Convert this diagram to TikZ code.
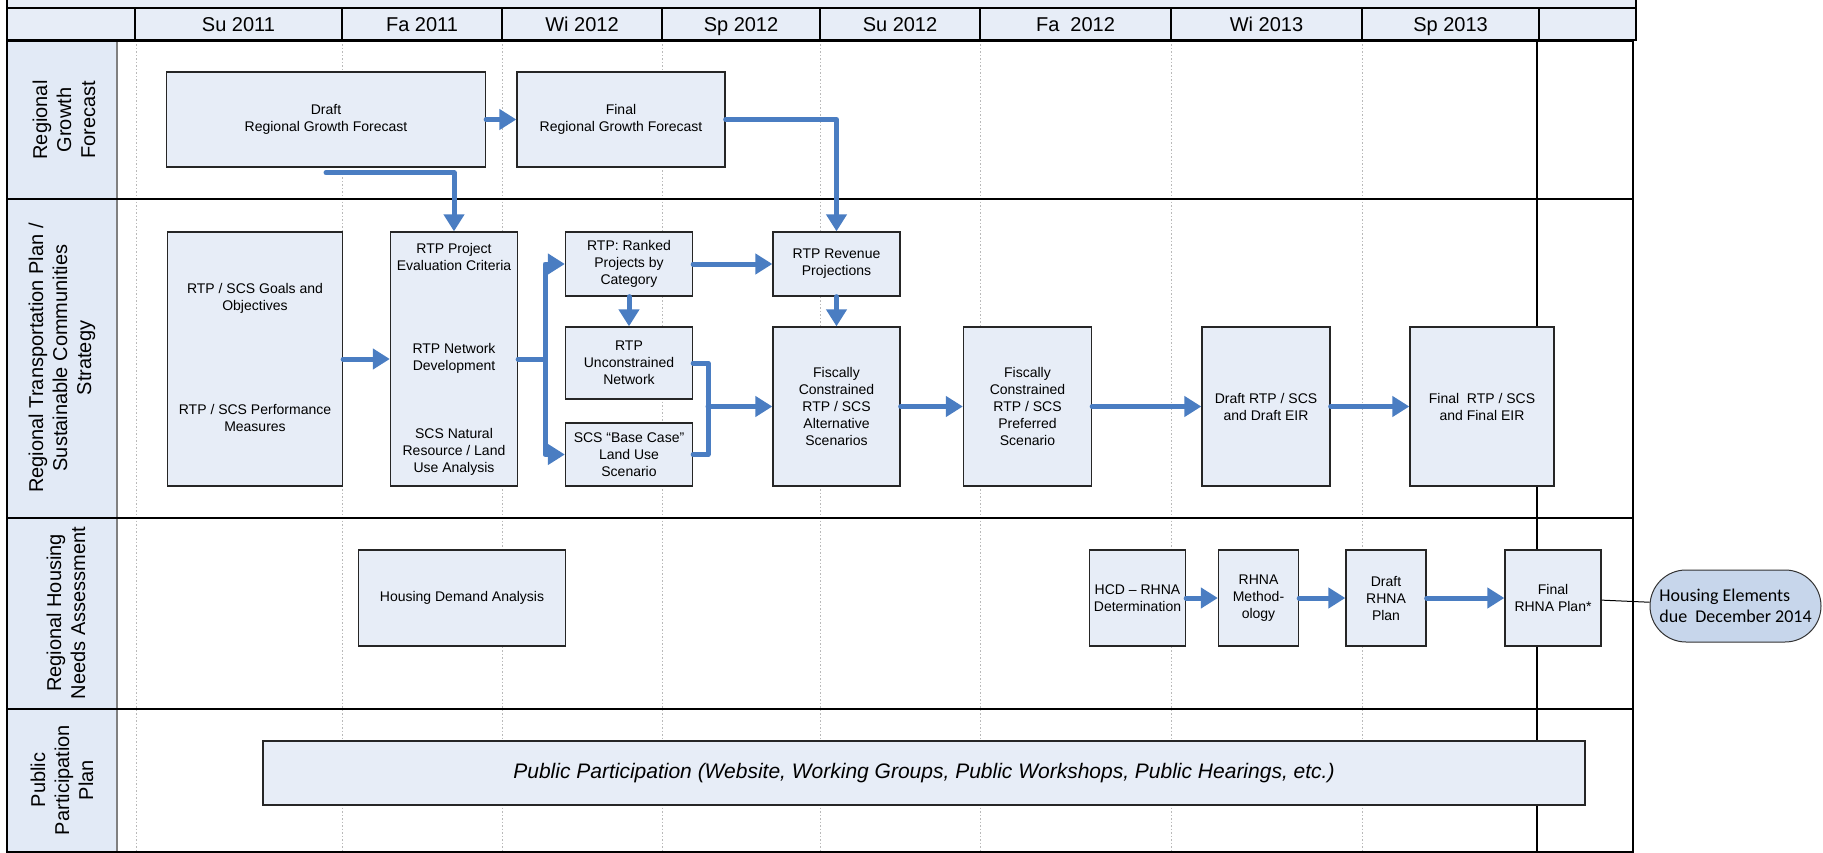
\documentclass[tikz,border=0pt]{standalone}
\usepackage{fontspec}
\setmainfont{Liberation Sans}
\newfontfamily\bubblefont{Carlito}
\usetikzlibrary{arrows.meta,shapes.misc}
\definecolor{boxblue}{RGB}{231,237,247}
\definecolor{laneblue}{RGB}{226,234,246}
\definecolor{flowblue}{RGB}{74,125,194}
\definecolor{bubbleblue}{RGB}{199,214,235}
\tikzstyle{box}=[draw=black!85, line width=1.3pt, fill=boxblue, inner sep=0pt, align=center, font=\fontsize{14}{17}\selectfont]
\tikzstyle{txt}=[inner sep=0pt, align=center, font=\fontsize{14}{17}\selectfont]
\tikzstyle{hdr}=[draw=black, line width=1.3pt, fill=boxblue, minimum height=32pt, inner sep=0pt, text height=15pt, text depth=0pt, font=\fontsize{20}{24}\selectfont]
\tikzstyle{lanelabel}=[rotate=90, inner sep=0pt, align=center, font=\fontsize{20}{24}\selectfont]
\tikzstyle{flow}=[draw=flowblue, line width=5pt, line cap=round, line join=round]
\tikzstyle{gridline}=[draw=gray!55, line width=1pt, dash pattern=on 1.5pt off 2pt]
\tikzstyle{bubble}=[rounded rectangle, draw=black!80, line width=1pt, fill=bubbleblue, minimum width=171pt, minimum height=72pt, inner sep=0pt, align=left, font=\bubblefont\fontsize{18}{21}\selectfont]

\begin{document}
\begin{tikzpicture}[x=1pt, y=-1pt, >={Triangle[length=17pt,width=20pt]}]
\useasboundingbox (0,0) rectangle (1823,853);

\fill[boxblue] (7,0) rectangle (1636,8);
\draw[line width=1.3pt] (7,0) -- (7,8);
\draw[line width=1.3pt] (1636,0) -- (1636,8);

\node[hdr, minimum width=128pt] (corner) at (71,24) {};
\node[hdr, minimum width=207pt] (su11) at (238.5,24) {Su 2011};
\node[hdr, minimum width=160pt] (fa11) at (422,24) {Fa 2011};
\node[hdr, minimum width=160pt] (wi12) at (582,24) {Wi 2012};
\node[hdr, minimum width=158pt] (sp12) at (741,24) {Sp 2012};
\node[hdr, minimum width=160pt] (su12) at (900,24) {Su 2012};
\node[hdr, minimum width=191pt] (fa12) at (1075.5,24) {Fa\ \ 2012};
\node[hdr, minimum width=191pt] (wi13) at (1266.5,24) {Wi 2013};
\node[hdr, minimum width=177pt] (sp13) at (1450.5,24) {Sp 2013};
\node[hdr, minimum width=97pt] (blank) at (1587.5,24) {};

\fill[laneblue] (7,41) rectangle (117,852);
\draw[gridline] (136,41) -- (136,852);
\draw[gridline] (342,41) -- (342,852);
\draw[gridline] (502,41) -- (502,852);
\draw[gridline] (662,41) -- (662,852);
\draw[gridline] (820,41) -- (820,852);
\draw[gridline] (980,41) -- (980,852);
\draw[gridline] (1171,41) -- (1171,852);
\draw[gridline] (1362,41) -- (1362,852);
\draw[line width=1.3pt] (1537,41) -- (1537,852);
\draw[gray, line width=2pt] (117,41) -- (117,852);
\draw[line width=1.3pt] (7,41) rectangle (1633,852);
\draw[line width=1.3pt] (7,199) -- (1633,199);
\draw[line width=1.3pt] (7,518) -- (1633,518);
\draw[line width=1.3pt] (7,709) -- (1633,709);

\node[lanelabel] (rgf) at (64,120) {Regional\\Growth\\Forecast};
\node[lanelabel] (rtp) at (62,358) {Regional Transportation Plan /\\Sustainable Communities\\Strategy};
\node[lanelabel] (rhna) at (66,613) {Regional Housing\\Needs Assessment};
\node[lanelabel] (ppp) at (62,780) {Public\\Participation\\Plan};

\node[box, minimum width=319pt, minimum height=95pt] (draft) at (326,119.5) {Draft\\Regional Growth Forecast};
\node[box, minimum width=208pt, minimum height=95pt] (final) at (621,119.5) {Final\\Regional Growth Forecast};

\node[box, minimum width=175pt, minimum height=254pt] (goals) at (255,359) {};
\node[txt] (goalsA) at (255,298) {RTP / SCS Goals and\\Objectives};
\node[txt] (goalsB) at (255,418) {RTP / SCS Performance\\Measures};
\node[box, minimum width=127pt, minimum height=254pt] (eval) at (454,359) {};
\node[txt] (evalA) at (454,257) {RTP Project\\Evaluation Criteria};
\node[txt] (evalB) at (454,358) {RTP Network\\Development};
\node[txt] (evalC) at (454,452) {SCS Natural\\Resource / Land\\Use Analysis};

\node[box, minimum width=127pt, minimum height=64pt] (ranked) at (629,264) {RTP: Ranked\\Projects by\\Category};
\node[box, minimum width=127pt, minimum height=72pt] (uncon) at (629,363) {RTP\\Unconstrained\\Network};
\node[box, minimum width=127pt, minimum height=63pt] (basecase) at (629,454.5) {SCS “Base Case”\\Land Use\\Scenario};
\node[box, minimum width=127pt, minimum height=64pt] (revenue) at (836.5,264) {RTP Revenue\\Projections};
\node[box, minimum width=127pt, minimum height=159pt] (alt) at (836.5,406.5) {Fiscally\\Constrained\\RTP / SCS\\Alternative\\Scenarios};
\node[box, minimum width=128pt, minimum height=159pt] (pref) at (1027.5,406.5) {Fiscally\\Constrained\\RTP / SCS\\Preferred\\Scenario};
\node[box, minimum width=128pt, minimum height=159pt] (drafteir) at (1266,406.5) {Draft RTP / SCS\\and Draft EIR};
\node[box, minimum width=144pt, minimum height=159pt] (finaleir) at (1482,406.5) {Final\ \ RTP / SCS\\and Final EIR};

\node[box, minimum width=207pt, minimum height=96pt] (demand) at (462,598) {Housing Demand Analysis};
\node[box, minimum width=96pt, minimum height=96pt] (hcd) at (1137.5,598) {HCD -- RHNA\\Determination};
\node[box, minimum width=80pt, minimum height=96pt] (method) at (1258.5,598) {RHNA\\Method-\\ology};
\node[box, minimum width=80pt, minimum height=96pt] (draftrhna) at (1386,598) {Draft\\RHNA\\Plan};
\node[box, minimum width=96pt, minimum height=96pt] (finalrhna) at (1553,598) {Final\\RHNA Plan*};
\node[bubble] (elements) at (1735.5,606) {Housing Elements\\due\ \ December 2014};

\node[box, minimum width=1322pt, minimum height=64pt, font=\fontsize{21}{24}\selectfont\itshape] (public) at (924,773) {Public Participation (Website, Working Groups, Public Workshops, Public Hearings, etc.)};

\draw[flow, ->] (draft) -- (final);
\draw[flow, ->] (draft.south) ++(0,5) -| (eval.north);
\draw[flow, ->] (final.east) -| (revenue.north);

\draw[flow, ->] (goals) -- (eval);
\coordinate (bus) at (545,359);
\draw[flow] (eval.east) -- (bus);
\draw[flow, ->] (bus) |- (ranked.west);
\draw[flow, ->] (bus) |- (basecase.west);
\draw[flow, ->] (ranked) -- (revenue);
\draw[flow, ->] (ranked) -- (uncon);
\draw[flow, ->] (revenue) -- (alt);
\coordinate (merge) at (708,406.5);
\draw[flow] (uncon.east) -| (merge);
\draw[flow] (basecase.east) -| (merge);
\draw[flow, ->] (merge) -- (alt.west);
\draw[flow, ->] (alt) -- (pref);
\draw[flow, ->] (pref) -- (drafteir);
\draw[flow, ->] (drafteir) -- (finaleir);

\draw[flow, ->] (hcd) -- (method);
\draw[flow, ->] (method) -- (draftrhna);
\draw[flow, ->] (draftrhna) -- (finalrhna);
\draw[line width=1pt] (finalrhna) -- (elements);

\end{tikzpicture}
\end{document}
